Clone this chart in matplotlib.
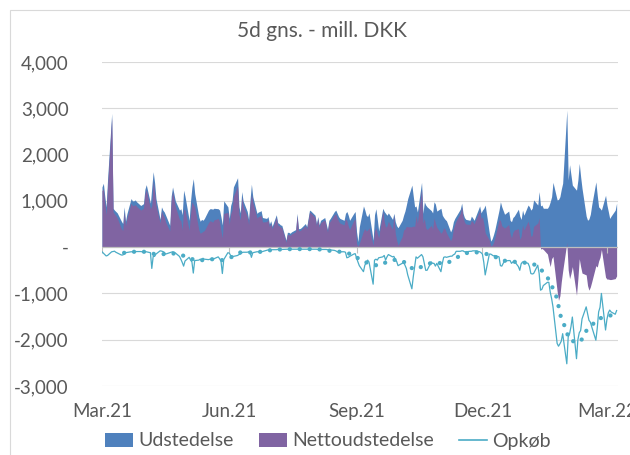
import matplotlib
matplotlib.use("Agg")
import matplotlib.pyplot as plt
import matplotlib.dates as mdates
from matplotlib.patches import Patch, Rectangle
from matplotlib.lines import Line2D
import numpy as np
import pandas as pd

plt.rcParams['font.family'] = ['Lato', 'DejaVu Sans']

# business days 2021-03-01 .. 2022-03-08, one row per week (Mon..Fri)
dage = pd.bdate_range('2021-03-01', '2022-03-08')

udstedelse = [
    1300, 1380, 1100, 870, 1450,
    2890, 840, 800, 770, 740,
    560, 510, 870, 560, 720,
    1050, 1000, 1000, 1020, 980,
    900, 920, 940, 1250, 1350,
    950, 1300, 1630, 1400, 1050,
    600, 870, 800, 760, 690,
    470, 1100, 1300, 1150, 1000,
    800, 830, 700, 1230, 1100,
    580, 1000, 1300, 1480, 1160,
    650, 560, 600, 580, 620,
    800, 830, 830, 820, 840,
    830, 800, 650, 480, 1000,
    870, 620, 900, 1000, 1300,
    1500, 870, 740, 1200, 1000,
    770, 590, 1020, 1360, 1090,
    730, 760, 770, 790, 640,
    620, 660, 500, 570, 450,
    700, 530, 510, 480, 470,
    150, 320, 320, 300, 330,
    380, 730, 400, 400, 420,
    510, 440, 620, 800, 780,
    690, 510, 660, 480, 580,
    640, 510, 380, 580, 620,
    770, 800, 730, 660, 620,
    580, 730, 770, 690, 580,
    730, 770, 330, 120, 440,
    890, 800, 690, 660, 740,
    150, 700, 830, 600, 350,
    840, 770, 730, 690, 740,
    600, 730, 550, 460, 420,
    580, 690, 780, 910, 1050,
    1340, 1100, 870, 890, 760,
    1400, 730, 980, 910, 870,
    790, 740, 980, 930, 780,
    840, 690, 640, 600, 570,
    330, 400, 550, 620, 670,
    820, 950, 730, 640, 600,
    580, 670, 630, 580, 660,
    890, 740, 800, 840, 910,
    300, 130, 180, 270, 380,
    800, 980, 870, 790, 710,
    780, 580, 550, 640, 670,
    820, 670, 600, 800, 690,
    910, 870, 800, 840, 1020,
    910, 1200, 890, 910, 840,
    840, 890, 980, 1090, 1400,
    1020, 1030, 1090, 1250, 1380,
    2960, 1450, 1780, 1560, 1340,
    1230, 1450, 1810, 1520, 1270,
    670, 580, 610, 710, 910,
    1410, 1120, 870, 840, 800,
    1120, 910, 770, 620, 670,
    800, 950,
]

nettoudstedelse = [
    1220, 1260, 960, 700, 1300,
    2800, 760, 720, 680, 630,
    400, 360, 760, 460, 620,
    950, 900, 900, 920, 880,
    800, 820, 840, 1150, 1250,
    830, 900, 1430, 1200, 900,
    520, 780, 700, 650, 540,
    350, 990, 1200, 1040, 880,
    600, 570, 370, 820, 800,
    360, 720, 980, 920, 870,
    370, 300, 320, 340, 360,
    530, 570, 560, 540, 590,
    620, 550, 350, 200, 730,
    750, 490, 720, 800, 1100,
    1320, 710, 590, 1080, 890,
    660, 490, 910, 1140, 970,
    630, 660, 670, 690, 545,
    550, 600, 440, 515, 395,
    645, 480, 460, 430, 420,
    105, 275, 270, 255, 285,
    335, 685, 355, 355, 375,
    465, 395, 575, 755, 735,
    645, 465, 610, 430, 530,
    590, 460, 325, 525, 560,
    700, 720, 630, 560, 520,
    480, 620, 570, 460, 380,
    580, 610, 80, 20, 80,
    350, 400, 350, 370, 420,
    40, 350, 420, 300, 200,
    780, 560, 430, 460, 560,
    380, 700, 300, 150, 40,
    230, 370, 390, 450, 440,
    440, 460, 440, 680, 520,
    1250, 520, 620, 420, 380,
    470, 390, 630, 520, 430,
    300, 340, 420, 390, 310,
    140, 210, 400, 490, 570,
    730, 870, 650, 540, 500,
    490, 580, 550, 500, 580,
    790, 620, 650, 510, 310,
    150, 30, 40, 100, 200,
    590, 580, 460, 440, 410,
    490, 290, 200, 320, 370,
    400, 170, 240, 480, 370,
    560, 445, 230, 256, 450,
    520, 630, -40, -30, -50,
    -150, -300, -420, -250, -200,
    -950, -1150, -1050, -750, -520,
    100, -490, -680, -570, -420,
    -1040, -680, -250, -420, -560,
    -600, -830, -930, -860, -750,
    -400, -430, -300, -220, -50,
    -650, -690, -690, -700, -700,
    -680, -620,
]

opkob = [
    -100, -130, -160, -190, -180,
    -100, -95, -87, -110, -125,
    -170, -170, -150, -120, -115,
    -100, -100, -100, -100, -95,
    -95, -100, -100, -100, -100,
    -120, -460, -200, -200, -150,
    -80, -85, -95, -110, -150,
    -120, -110, -100, -110, -125,
    -200, -260, -330, -410, -300,
    -220, -280, -320, -560, -290,
    -280, -260, -280, -240, -260,
    -270, -260, -270, -280, -250,
    -210, -250, -300, -570, -270,
    -120, -130, -180, -200, -200,
    -180, -160, -150, -120, -110,
    -110, -100, -110, -220, -120,
    -100, -100, -100, -100, -95,
    -70, -60, -60, -55, -55,
    -55, -50, -50, -50, -50,
    -45, -45, -50, -45, -45,
    -45, -45, -45, -50, -45,
    -45, -45, -45, -45, -45,
    -45, -45, -50, -50, -50,
    -50, -50, -55, -55, -60,
    -70, -80, -100, -100, -100,
    -100, -110, -230, -220, -200,
    -150, -140, -230, -320, -400,
    -530, -390, -340, -280, -320,
    -800, -280, -260, -280, -230,
    -210, -180, -280, -210, -160,
    -210, -200, -270, -310, -400,
    -350, -320, -390, -460, -600,
    -900, -640, -430, -210, -240,
    -160, -210, -360, -500, -500,
    -320, -350, -350, -410, -350,
    -530, -350, -220, -210, -220,
    -195, -195, -165, -150, -90,
    -90, -80, -80, -100, -100,
    -90, -90, -80, -80, -80,
    -100, -120, -150, -330, -600,
    -150, -150, -170, -190, -180,
    -210, -400, -410, -350, -300,
    -290, -290, -350, -320, -300,
    -420, -500, -360, -320, -320,
    -350, -420, -570, -580, -570,
    -390, -570, -930, -910, -830,
    -760, -760, -970, -1110, -1290,
    -2080, -2140, -2090, -2030, -1870,
    -2520, -1940, -1870, -1720, -1510,
    -2410, -2000, -1850, -1800, -1550,
    -1290, -1440, -1580, -1620, -1720,
    -2010, -1750, -1400, -1300, -1000,
    -1790, -1560, -1420, -1360, -1400,
    -1450, -1370,
]

# smoothed buyback series (dotted, no legend entry)
gns_datoer = ['2021-03-17', '2021-03-24', '2021-04-01', '2021-04-08', '2021-04-16',
              '2021-04-23', '2021-04-30', '2021-05-07', '2021-05-13', '2021-05-20',
              '2021-05-27', '2021-06-03', '2021-06-09', '2021-06-16', '2021-06-24',
              '2021-07-01', '2021-07-08', '2021-07-16', '2021-07-23', '2021-07-30',
              '2021-08-06', '2021-08-13', '2021-08-20', '2021-08-30', '2021-09-03',
              '2021-09-10', '2021-09-17', '2021-09-24', '2021-09-30', '2021-10-07',
              '2021-10-12', '2021-10-18', '2021-10-25', '2021-10-29', '2021-11-05',
              '2021-11-11', '2021-11-17', '2021-11-24', '2021-12-01', '2021-12-08',
              '2021-12-15', '2021-12-21', '2021-12-28', '2022-01-04', '2022-01-10',
              '2022-01-14', '2022-01-18', '2022-01-21', '2022-01-24', '2022-01-26',
              '2022-01-28', '2022-01-31', '2022-02-01', '2022-02-07', '2022-02-11',
              '2022-02-14', '2022-02-18', '2022-02-22', '2022-02-28', '2022-03-04']
gns_vaerdier = [-123, -100, -100, -150, -150, -135, -195, -280, -281, -260,
                -281, -210, -115, -115, -100, -65, -50, -43, -43, -43,
                -50, -80, -100, -160, -267, -354, -404, -303, -267, -339,
                -483, -426, -339, -339, -354, -253, -144, -101, -130, -173,
                -289, -303, -332, -339, -404, -541, -700, -895, -1111, -1436,
                -1616, -1797, -1977, -2070, -1991, -1811, -1696, -1551, -1508, -1472]

kvartaler = ['2021-03-01', '2021-06-01', '2021-09-01', '2021-12-01', '2022-03-01']
kvartal_labels = ['Mar.21', 'Jun.21', 'Sep.21', 'Dec.21', 'Mar.22']
y_ticks = [-3000, -2000, -1000, 0, 1000, 2000, 3000, 4000]

BLAA = '#4F81BD'
LILLA = '#8064A2'
AQUA = '#4BACC6'
GRAA_TXT = '#595959'

fig = plt.figure(figsize=(6.3, 4.55), dpi=100)
ax = fig.add_axes([102/630, 1 - 386/455, (618 - 102)/630, (386 - 62)/455])

# chart border (cropped on the right and bottom)
fig.patches.append(Rectangle((10/630, -0.1), 1.2, 1.1 - 10/455, transform=fig.transFigure,
                             fill=False, edgecolor='#D9D9D9', lw=0.8))

for yv in y_ticks:
    if yv != 0:
        ax.axhline(yv, color='#D9D9D9', lw=0.8, zorder=0)

x = dage.to_pydatetime()
ax.fill_between(x, 0, udstedelse, color=BLAA, lw=0, zorder=1)
ax.fill_between(x, 0, nettoudstedelse, color=LILLA, lw=0, zorder=2)
ax.axhline(0, color='#BFBFBF', lw=0.9, zorder=3)
ax.plot(x, opkob, color=AQUA, lw=0.9, zorder=4)
ax.plot(pd.to_datetime(gns_datoer), gns_vaerdier, color=AQUA, lw=3.1,
        linestyle=(0, (0.01, 2.3)), dash_capstyle='round', zorder=5)

kv = pd.to_datetime(kvartaler)
ax.vlines(kv, -120, 0, color='#BFBFBF', lw=0.8, zorder=3)

ax.set_xlim(pd.Timestamp('2021-03-01'), pd.Timestamp('2022-03-09'))
ax.set_ylim(-3000, 4000)
ax.set_xticks(kv)
ax.set_xticklabels(kvartal_labels)
ax.set_yticks(y_ticks)
ax.set_yticklabels(['-' if v == 0 else f'{v:,}' for v in y_ticks])
ax.tick_params(axis='x', length=0, pad=12, labelsize=13.5, labelcolor=GRAA_TXT)
ax.tick_params(axis='y', length=0, pad=24, labelsize=13.5, labelcolor=GRAA_TXT)
for s in ax.spines.values():
    s.set_visible(False)
ax.patch.set_alpha(0)

fig.text(322/630, 1 - 31/455, '5d gns. - mill. DKK', ha='center', va='center',
         fontsize=15, color=GRAA_TXT)

handles = [Patch(facecolor=BLAA, edgecolor='none', label='Udstedelse'),
           Patch(facecolor=LILLA, edgecolor='none', label='Nettoudstedelse'),
           Line2D([], [], color=AQUA, lw=1.2, label='Opkøb')]
fig.legend(handles=handles, loc='center', bbox_to_anchor=(328/630, 1 - 441/455),
           ncol=3, frameon=False, fontsize=14, handlelength=1.45, handleheight=0.7,
           handletextpad=0.25, columnspacing=1.3, labelcolor=GRAA_TXT)

fig.savefig('out.png', dpi=100)
